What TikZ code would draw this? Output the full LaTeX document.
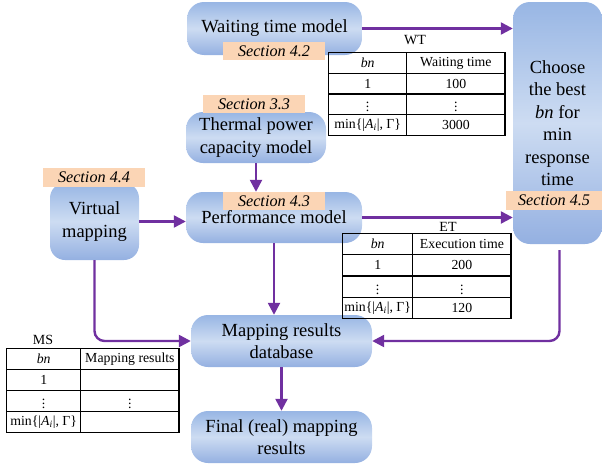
\documentclass[tikz,border=0pt]{standalone}
\usepackage{fontspec}
\setmainfont{Liberation Serif}
\usetikzlibrary{arrows.meta,matrix,calc}
\definecolor{arrowpurple}{RGB}{112,48,160}
\definecolor{boxtop}{RGB}{152,182,228}
\definecolor{boxmid}{RGB}{205,220,242}
\definecolor{boxbot}{RGB}{148,176,225}
\definecolor{peach}{RGB}{251,213,181}
\tikzset{
  modelbox/.style={rounded corners=17pt, top color=boxtop, bottom color=boxbot, middle color=boxmid,
    align=center, inner sep=2pt, font=\fontsize{18.5}{22.5}\selectfont},
  seclabel/.style={fill=peach, minimum width=102pt, minimum height=18.5pt, inner sep=0pt,
    font=\fontsize{16.2}{18}\selectfont\itshape},
  flow/.style={draw=arrowpurple, line width=2.4pt, -{Triangle[length=12pt,width=12pt]}},
  tbl/.style={matrix of nodes, nodes in empty cells, inner sep=0pt, outer sep=0pt, row sep=-1.2pt, column sep=-1.2pt,
    nodes={draw, line width=1.2pt, inner sep=0pt, anchor=center, font=\fontsize{13.8}{15}\selectfont}},
  tbllabel/.style={font=\fontsize{14}{15}\selectfont, inner sep=0pt}
}
\newcommand{\minA}{min\{|\textit{A}\textsubscript{\textit{i}}|, Γ\}}
\begin{document}
\begin{tikzpicture}[x=1pt,y=-1pt]
\useasboundingbox (0,0) rectangle (602,471);

% boxes
\node[modelbox, minimum width=175pt, minimum height=53pt] (wt) at (274.5,28.5) {Waiting time model};
\node[modelbox, minimum width=140pt, minimum height=51pt] (thermal) at (256,137.5) {Thermal power\\capacity model};
\node[modelbox, minimum width=89pt, minimum height=77pt, rounded corners=15pt] (virtual) at (94.5,221.5) {Virtual\\mapping};
\node[modelbox, minimum width=176pt, minimum height=51pt] (perf) at (274,217.5) {\raisebox{-3pt}{Performance model}};
\node[modelbox, minimum width=89pt, minimum height=242pt] (choose) at (557.5,123) {Choose\\the best\\\textit{bn} for\\min\\response\\time};
\node[modelbox, minimum width=181pt, minimum height=52pt] (map) at (281.5,341) {Mapping results\\database};
\node[modelbox, minimum width=181pt, minimum height=52pt] (final) at (281.5,437) {Final (real) mapping\\results};

% arrows
\draw[flow] (wt.east) -- (wt.east -| choose.west);
\draw[flow] (perf.east) -- (perf.east -| choose.west);
\draw[flow] (thermal.south) -- (thermal.south |- perf.north);
\draw[flow] (virtual.east) -- (virtual.east -| perf.west);
\draw[flow] (perf.south) -- (perf.south |- map.north);
\draw[flow, rounded corners=10pt] (virtual.south) |- (map.west);
\draw[flow, rounded corners=10pt] ($(choose.south)+(2,6)$) |- (map.east);
\draw[flow] (map.south) -- (map.south |- final.north);

% section labels
\node[seclabel] (s42) at (274,51) {Section 4.2};
\node[seclabel] (s33) at (254,104) {Section 3.3};
\node[seclabel] (s44) at (94,177.5) {Section 4.4};
\node[seclabel] (s43) at (274,201) {Section 4.3};
\node[seclabel, minimum width=96pt] (s45) at (554,200.5) {Section 4.5};

% WT table
\node[tbllabel] (wtlab) at (415,40) {WT};
\matrix[tbl, anchor=north west, column 1/.style={nodes={minimum width=78.2pt}}, column 2/.style={nodes={minimum width=98.2pt}},
  nodes={minimum height=20.7pt}] (wtt) at (328,52) {
  \textit{bn} & Waiting time \\
  1 & 100 \\
  $\vdots$ & $\vdots$ \\
  \minA & 3000 \\
};

% ET table
\node[tbllabel] (etlab) at (448,227) {ET};
\matrix[tbl, anchor=north west, column 1/.style={nodes={minimum width=70.2pt}}, column 2/.style={nodes={minimum width=98.2pt}},
  nodes={minimum height=21.2pt}] (ett) at (342,233) {
  \textit{bn} & Execution time \\
  1 & 200 \\
  $\vdots$ & $\vdots$ \\
  \minA & 120 \\
};

% MS table
\node[tbllabel] (mslab) at (43,340) {MS};
\matrix[tbl, anchor=north west, column 1/.style={nodes={minimum width=74.2pt}}, column 2/.style={nodes={minimum width=98.2pt}},
  nodes={minimum height=20.95pt}] (mst) at (6,348) {
  \textit{bn} & Mapping results \\
  1 & \\
  $\vdots$ & $\vdots$ \\
  \minA & \\
};
\end{tikzpicture}
\end{document}
